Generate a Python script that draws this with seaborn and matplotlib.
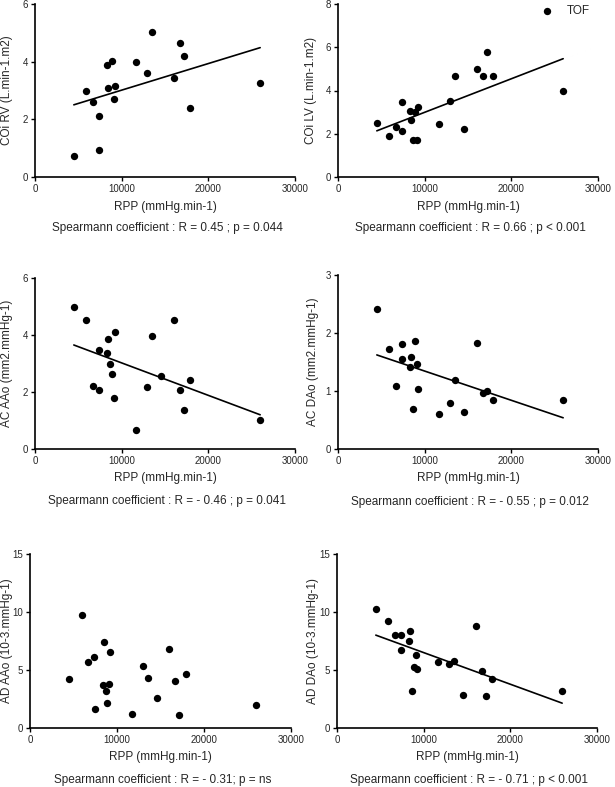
import numpy as np
import pandas as pd
import matplotlib.pyplot as plt
import seaborn as sns

# RPP values shared by all panels (mmHg.min-1)
rpp = [4480, 5930, 6700, 7340, 7430, 8350, 8450, 8680, 8900, 9070,
       9180, 11680, 12980, 13520, 14550, 16020, 16690, 17180, 17920, 25980]

# outcome values, same patient order as rpp (nan = not shown)
coi_rv = [0.72, 2.97, 2.59, 2.13, 0.92, 3.90, 3.10, np.nan, 4.02, 2.70,
          3.16, 3.99, 3.60, 5.04, np.nan, 3.43, 4.66, 4.19, 2.41, 3.26]
coi_lv = [2.48, 1.90, 2.33, 2.13, 3.48, 3.05, 2.64, 1.71, 2.99, 1.71,
          3.25, 2.44, 3.53, 4.66, 2.24, 4.99, 4.65, 5.78, 4.69, 4.00]
ac_aao = [4.99, 4.54, 2.22, 3.49, 2.08, 3.38, 3.86, 3.00, 2.63, 1.80,
          4.12, 0.67, 2.19, 3.96, 2.57, 4.51, 2.08, 1.36, 2.41, 1.02]
ac_dao = [2.41, 1.72, 1.08, 1.55, 1.81, 1.42, 1.58, 0.69, 1.86, 1.46,
          1.04, 0.61, 0.79, 1.19, 0.63, 1.82, 0.96, 1.00, 0.84, 0.85]
ad_aao = [4.24, 9.78, 5.65, 6.11, 1.67, 3.75, 7.41, 3.20, 2.19, 3.81,
          6.58, 1.24, 5.36, 4.33, 2.62, 6.81, 4.04, 1.10, 4.64, 2.02]
ad_dao = [10.30, 9.20, 7.99, 8.02, 6.72, 7.47, 8.39, 3.17, 5.25, 6.26,
          5.10, 5.71, 5.48, 5.74, 2.86, 8.83, 4.90, 2.74, 4.24, 3.17]

ylabels = ['COi RV (L.min-1.m2)', 'COi LV (L.min-1.m2)',
           'AC AAo (mm2.mmHg-1)', 'AC DAo (mm2.mmHg-1)',
           'AD AAo (10-3.mmHg-1)', 'AD DAo (10-3.mmHg-1)']
stats = ['Spearmann coefficient : R = 0.45 ; p = 0.044',
         'Spearmann coefficient : R = 0.66 ; p < 0.001',
         'Spearmann coefficient : R = - 0.46 ; p = 0.041',
         'Spearmann coefficient : R = - 0.55 ; p = 0.012',
         'Spearmann coefficient : R = - 0.31; p = ns',
         'Spearmann coefficient : R = - 0.71 ; p < 0.001']
ymax = [6, 8, 6, 3, 15, 15]
ystep = [2, 2, 2, 1, 5, 5]
fitline = [True, True, True, True, False, True]
series = [coi_rv, coi_lv, ac_aao, ac_dao, ad_aao, ad_dao]

sns.set_style('ticks')
plt.rcParams['font.family'] = ['Liberation Sans', 'DejaVu Sans']

W, H = 615, 787
fig = plt.figure(figsize=(W / 100, H / 100), dpi=100)

# axes boxes in pixels: left, right, top, bottom
boxes = [(35, 295, 4, 177), (338, 598, 4, 177),
         (35, 295, 278, 449), (338, 598, 275, 449),
         (30, 291, 554, 728), (337, 597, 554, 728)]
text_y = [228, 228, 501, 502, 780, 780]
xlab_y = [207, 207, 478, 478, 757, 757]
ylab_x = [7, 311, 7, 313, 7, 313]

for i, (l, r, t, b) in enumerate(boxes):
    ax = fig.add_axes([l / W, 1 - b / H, (r - l) / W, (b - t) / H])
    df = pd.DataFrame({'rpp': rpp, 'val': series[i]})
    sns.scatterplot(data=df, x='rpp', y='val', ax=ax, color='black',
                    s=28, edgecolor='black', linewidth=0,
                    label='TOF' if i == 1 else None, legend=(i == 1))
    if fitline[i]:
        sns.regplot(data=df, x='rpp', y='val', ax=ax, scatter=False, ci=None,
                    truncate=True, color='black', line_kws={'linewidth': 1.2})
    ax.set_xlim(0, 30000)
    ax.set_ylim(0, ymax[i])
    ax.set_xticks([0, 10000, 20000, 30000])
    ax.set_yticks(np.arange(0, ymax[i] + 0.01, ystep[i]))
    ax.tick_params(labelsize=7, length=3, width=1, color='black', pad=2)
    for s in ['left', 'bottom']:
        ax.spines[s].set_linewidth(1.2)
        ax.spines[s].set_color('black')
    sns.despine(ax=ax)
    ax.set_xlabel('')
    ax.set_ylabel(ylabels[i], fontsize=8.5, va='center')
    ax.yaxis.set_label_coords(ylab_x[i] / W, 1 - (t + b) / 2 / H,
                              transform=fig.transFigure)
    cx = (l + r) / 2
    fig.text(cx / W, 1 - xlab_y[i] / H, 'RPP (mmHg.min-1)', ha='center',
             va='center', fontsize=8.5)
    fig.text((cx + 2) / W, 1 - text_y[i] / H, stats[i], ha='center',
             va='center', fontsize=8.5)
    if i == 1:
        ax.legend(loc='upper right', frameon=False, fontsize=8.5,
                  handletextpad=0.6, borderaxespad=0.1, markerscale=1.0,
                  bbox_to_anchor=(0.99, 1.03))

fig.savefig('out.png', dpi=100)
